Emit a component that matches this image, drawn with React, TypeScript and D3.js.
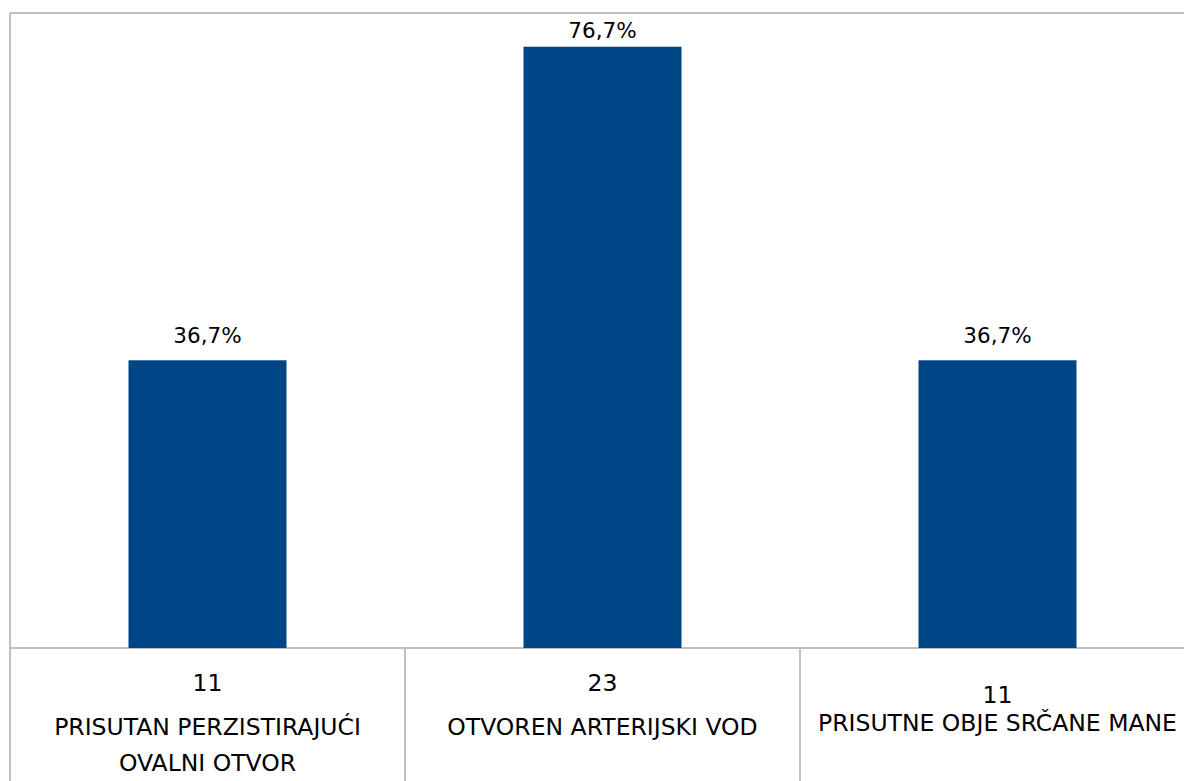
import React from "react";
import * as d3 from "d3";

const categories = ["PRISUTAN PERZISTIRAJUĆI|OVALNI OTVOR", "OTVOREN ARTERIJSKI VOD", "PRISUTNE OBJE SRČANE MANE"];
const counts = [11, 23, 11];
const percents = [36.7, 76.7, 36.7];
const percentLabels = ["36,7%", "76,7%", "36,7%"];

const W = 1184;
const H = 781;
const left = 10;
const top = 13;
const baseline = 648;
const colW = 395;
const font = "Tahoma, 'DejaVu Sans', sans-serif";

export default function App() {
  const x = d3
    .scaleBand<number>()
    .domain(d3.range(categories.length))
    .range([left, left + colW * categories.length])
    .paddingInner(0)
    .paddingOuter(0);
  const y = d3.scaleLinear().domain([0, 81]).range([baseline, top]);
  const barW = 158;
  const grid = "#c0c0c0";

  return (
    <svg
      width={W}
      height={H}
      style={{ position: "absolute", left: 0, top: 0, background: "#fff" }}
    >
      <line x1={left} x2={W + 20} y1={top} y2={top} stroke={grid} strokeWidth={2} />
      <line x1={left} x2={left} y1={top} y2={H + 20} stroke={grid} strokeWidth={2} />
      <line x1={left} x2={W + 20} y1={baseline} y2={baseline} stroke={grid} strokeWidth={2} />
      {categories.map((_, i) =>
        i > 0 ? (
          <line
            key={"d" + i}
            x1={x(i)!}
            x2={x(i)!}
            y1={baseline}
            y2={H + 20}
            stroke={grid}
            strokeWidth={2}
          />
        ) : null
      )}
      {percents.map((v, i) => {
        const cx = x(i)! + x.bandwidth() / 2;
        return (
          <g key={i}>
            <rect
              x={cx - barW / 2}
              y={y(v)}
              width={barW}
              height={baseline - y(v)}
              fill="#004586"
            />
            <text
              x={cx}
              y={Math.max(y(v) - 17, top + 25)}
              textAnchor="middle"
              fontFamily={font}
              fontSize={21.5}
              fill="#000"
            >
              {percentLabels[i]}
            </text>
          </g>
        );
      })}
      {categories.map((c, i) => {
        const cx = x(i)! + x.bandwidth() / 2;
        const lines = c.split("|");
        const oneLine = lines.length === 1 && i === 2;
        const numY = oneLine ? 703 : 691;
        const textY = oneLine ? 731 : 735;
        return (
          <g key={"t" + i} fontFamily={font} fontSize={23.5} fill="#000" textAnchor="middle">
            <text x={cx} y={numY}>{counts[i]}</text>
            {lines.map((l, j) => (
              <text key={j} x={cx} y={textY + j * 36}>
                {l}
              </text>
            ))}
          </g>
        );
      })}
    </svg>
  );
}
